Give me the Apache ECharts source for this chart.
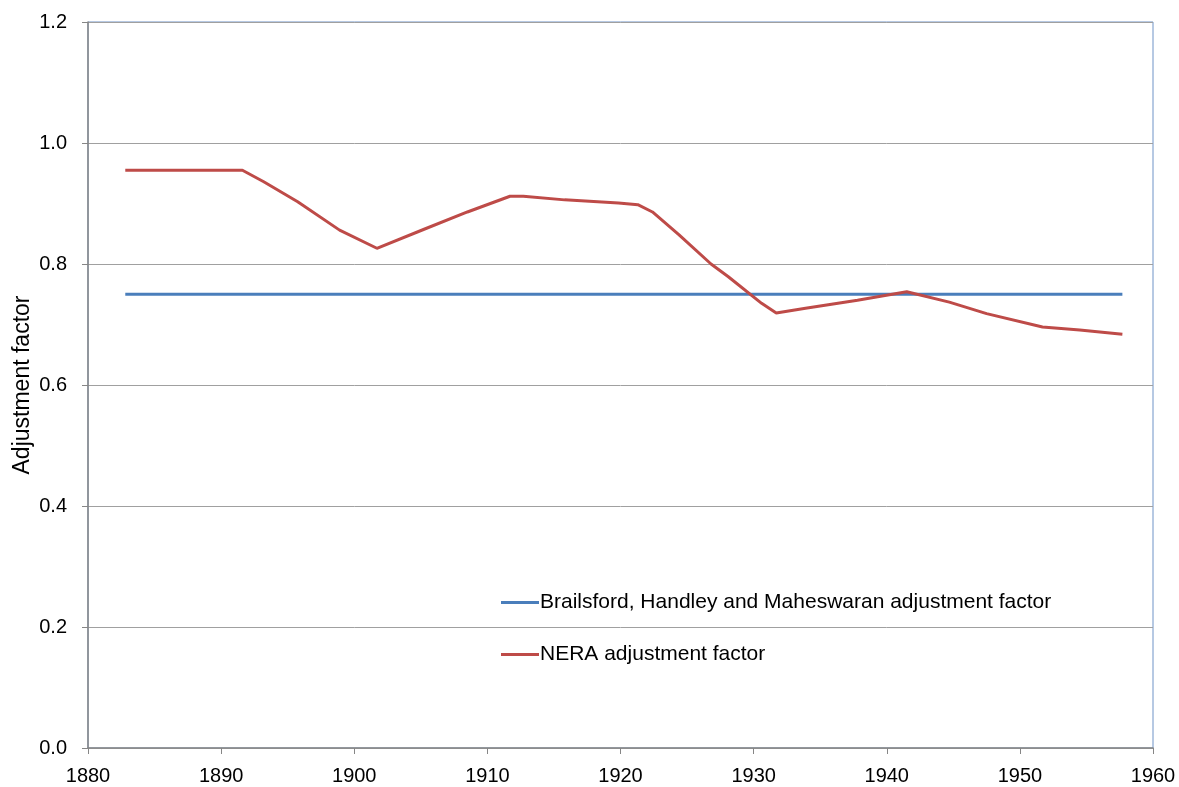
<!DOCTYPE html>
<html><head><meta charset="utf-8">
<script src="https://cdn.jsdelivr.net/npm/echarts@6/dist/echarts.min.js"></script>
<style>html,body{margin:0;padding:0;background:#fff}#c{width:1179px;height:787px}</style>
</head><body><div id="c"></div>
<script>
var bhmName = 'Brailsford, Handley and Maheswaran adjustment factor';
var neraName = 'NERA adjustment factor';
var bhmYears = [1882.8, 1957.7];
var bhmValues = [0.75, 0.75];
var neraYears = [1882.8, 1891.6, 1893.2, 1895.75, 1898.9, 1901.7, 1905.2, 1908.5, 1911.7, 1912.7, 1915.8, 1919.85, 1921.3, 1922.4, 1924.4, 1926.8, 1928.1, 1930.6, 1931.7, 1933.9, 1937.8, 1941.5, 1944.7, 1947.5, 1951.7, 1954.5, 1957.7];
var neraValues = [0.955, 0.955, 0.936, 0.903, 0.856, 0.826, 0.857, 0.886, 0.912, 0.912, 0.906, 0.901, 0.898, 0.886, 0.848, 0.80, 0.779, 0.735, 0.719, 0.727, 0.740, 0.754, 0.737, 0.718, 0.696, 0.691, 0.684];
var xTicks = {min: 1880, max: 1960, interval: 10};
var yTicks = {min: 0, max: 1.2, interval: 0.2};
var yTitle = 'Adjustment factor';

function pairs(xs, ys){ return xs.map(function(x,i){return [x, ys[i]];}); }
var font = 'Liberation Sans';
var chart = echarts.init(document.getElementById('c'));
chart.setOption({
  animation: false,
  grid: {left: 88, right: 26, top: 22, bottom: 39, outerBoundsMode: 'none', show: true, borderColor: '#6f93c7', borderWidth: 1, backgroundColor: 'transparent'},
  legend: {
    orient: 'vertical', left: 496, top: 587, itemGap: 31, itemWidth: 38, itemHeight: 3,
    icon: 'rect',
    textStyle: {fontFamily: font, fontSize: 21, color: '#000', padding: [0,0,0,-4]},
    data: [bhmName, neraName]
  },
  xAxis: {
    type: 'value', min: xTicks.min, max: xTicks.max, interval: xTicks.interval,
    axisLine: {show: true, onZero: false, lineStyle: {color: '#868686', width: 1.5}},
    axisTick: {show: true, length: 6, lineStyle: {color: '#868686'}},
    axisLabel: {fontFamily: font, fontSize: 20, color: '#000', margin: 18, formatter: function(v){return String(v);}},
    splitLine: {show: false}
  },
  yAxis: {
    type: 'value', min: yTicks.min, max: yTicks.max, interval: yTicks.interval,
    name: yTitle, nameLocation: 'middle', nameGap: 54, nameRotate: 90, nameMoveOverlap: false,
    nameTextStyle: {fontFamily: font, fontSize: 23, color: '#000'},
    axisLine: {show: true, lineStyle: {color: '#868686', width: 1.5}},
    axisTick: {show: true, length: 6, lineStyle: {color: '#868686'}},
    axisLabel: {fontFamily: font, fontSize: 20, color: '#000', margin: 21, formatter: function(v){return v.toFixed(1);}},
    splitLine: {show: true, lineStyle: {color: '#a0a0a0', width: 1}}
  },
  series: [
    {name: bhmName, type: 'line', data: pairs(bhmYears, bhmValues), showSymbol: false, symbol: 'none',
     lineStyle: {color: '#4a7ebb', width: 3}, itemStyle: {color: '#4a7ebb'}},
    {name: neraName, type: 'line', data: pairs(neraYears, neraValues), showSymbol: false, symbol: 'none',
     lineStyle: {color: '#be4b48', width: 3}, itemStyle: {color: '#be4b48'}}
  ]
});
</script></body></html>
